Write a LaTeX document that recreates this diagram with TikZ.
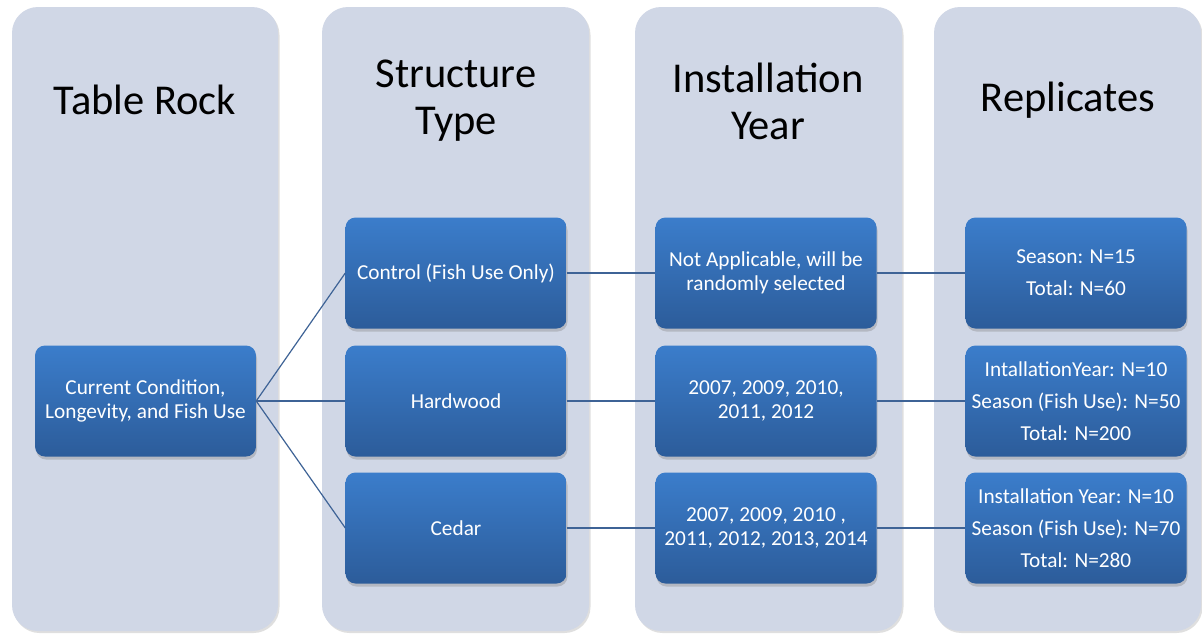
\documentclass[tikz,border=0pt]{standalone}
\usepackage{fontspec}
\setmainfont{Carlito}
\usetikzlibrary{shadows}
\definecolor{colbg}{HTML}{D0D7E6}
\definecolor{boxtop}{HTML}{3B7DCB}
\definecolor{boxbot}{HTML}{2C5C9A}
\definecolor{linec}{HTML}{3E6396}
\begin{document}
\begin{tikzpicture}[x=1pt,y=-1pt,
  colbox/.style={fill=colbg, rounded corners=26pt, drop shadow={shadow xshift=1.5pt,shadow yshift=-2pt,opacity=0.25}},
  head/.style={font=\fontsize{42.5}{47}\selectfont, align=center, text=black},
  item/.style={rectangle, rounded corners=10pt, minimum width=221pt, minimum height=111pt,
     top color=boxtop, bottom color=boxbot, draw=none, text=white, align=center,
     font=\fontsize{21.3}{24}\selectfont, inner sep=2pt,
     drop shadow={shadow xshift=1pt,shadow yshift=-3pt,opacity=0.35}},
  rep/.style={item, font=\fontsize{21.3}{32}\selectfont},
  conn/.style={draw=linec, line width=1.2pt}]
\useasboundingbox (0,0) rectangle (1202,635);
\fill[white] (0,0) rectangle (1202,635);
% columns
\path[colbox] (12,7) rectangle (278,631);
\path[colbox] (322,7) rectangle (589,631);
\path[colbox] (635,7) rectangle (902,631);
\path[colbox] (934,7) rectangle (1201,631);
% headings
\node[head] (h1) at (145,100) {Table Rock};
\node[head] (h2) at (456,101) {Structure\\Type};
\node[head] (h3) at (768,101) {Installation\\Year};
\node[head] (h4) at (1068,100) {Replicates};
% boxes
\node[item] (root) at (145.5,401) {Current Condition,\\Longevity, and Fish Use};
\node[item] (s1) at (456,273) {Control (Fish Use Only)};
\node[item] (s2) at (456,401) {Hardwood};
\node[item] (s3) at (456,528) {Cedar};
\node[item] (y1) at (766,273) {Not Applicable, will be\\randomly selected};
\node[item] (y2) at (766,401) {2007, 2009, 2010,\\2011, 2012};
\node[item] (y3) at (766,528) {2007, 2009, 2010 ,\\2011, 2012, 2013, 2014};
\node[rep] (r1) at (1076,273) {Season: N=15\\Total: N=60};
\node[rep] (r2) at (1076,401) {IntallationYear: N=10\\Season (Fish Use): N=50\\Total: N=200};
\node[rep] (r3) at (1076,528) {Installation Year: N=10\\Season (Fish Use): N=70\\Total: N=280};
% connectors
\draw[conn] (root.east) -- (s1.west);
\draw[conn] (root.east) -- (s2.west);
\draw[conn] (root.east) -- (s3.west);
\draw[conn] (s1.east) -- (y1.west);
\draw[conn] (s2.east) -- (y2.west);
\draw[conn] (s3.east) -- (y3.west);
\draw[conn] (y1.east) -- (r1.west);
\draw[conn] (y2.east) -- (r2.west);
\draw[conn] (y3.east) -- (r3.west);
\end{tikzpicture}
\end{document}
